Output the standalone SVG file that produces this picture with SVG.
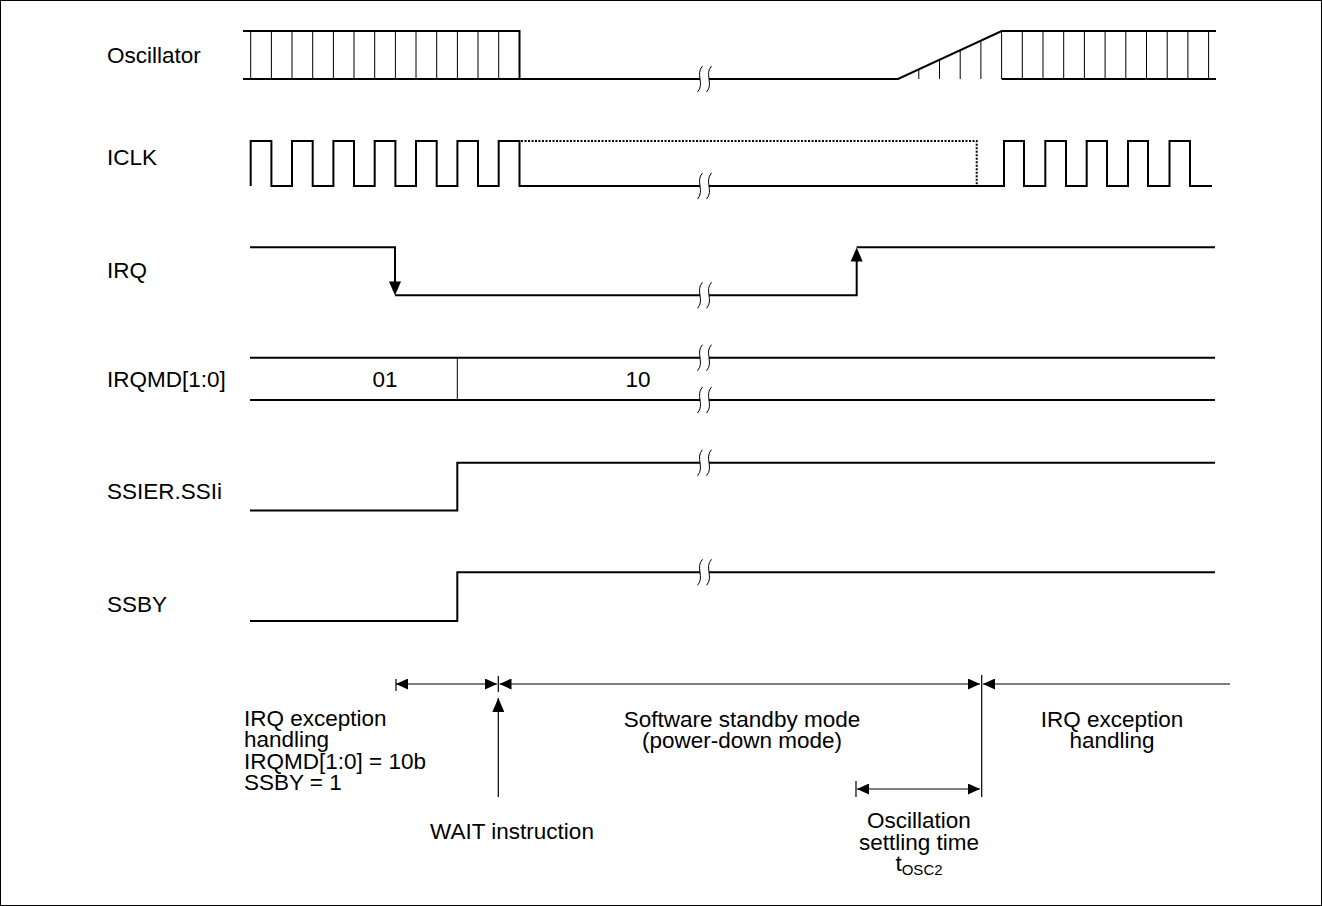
<svg xmlns="http://www.w3.org/2000/svg" width="1322" height="906" viewBox="0 0 1322 906">
<style>
text{font-family:"Liberation Sans",Arial,sans-serif;font-size:22.5px;fill:#000}
.c{text-anchor:middle}
.sig{fill:none;stroke:#000;stroke-width:2}
.thin{fill:none;stroke:#000;stroke-width:1}
.dot{fill:none;stroke:#000;stroke-width:2;stroke-dasharray:2,1.5}
.brk{fill:none;stroke:#000;stroke-width:1}
.dim{fill:none;stroke:#000;stroke-width:1.2}
</style>
<defs>
<marker id="ah" viewBox="0 0 12 11" refX="12" refY="5.5" markerWidth="12" markerHeight="11" orient="auto-start-reverse" markerUnits="userSpaceOnUse"><path d="M0,0 L12,5.5 L0,11 z" fill="#000"/></marker>
<marker id="ahL" viewBox="0 0 14 12" refX="14" refY="6" markerWidth="14" markerHeight="12" orient="auto" markerUnits="userSpaceOnUse"><path d="M0,0 L14,6 L0,12 z" fill="#000"/></marker>
<g id="brkmark"><path d="M2.5,-13 C-5,-5 5,5 -2.5,13 M11.5,-13 C4,-5 14,5 6.5,13" class="brk"/></g>
</defs>
<rect x="0.5" y="0.5" width="1321" height="905" fill="#fff" stroke="#000" stroke-width="1"/>

<g id="labels">
<text x="107" y="63">Oscillator</text>
<text x="107" y="165">ICLK</text>
<text x="107" y="278">IRQ</text>
<text x="107" y="387">IRQMD[1:0]</text>
<text x="107" y="499">SSIER.SSIi</text>
<text x="107" y="612">SSBY</text>
</g>

<g id="oscillator">
<path class="sig" d="M243,31 H519.5 V79 M243,79 H700 M709,79 H898 L1001.7,31 H1216 M1001.7,79 H1216"/>
<path class="thin" d="M250.7,31V79 M271.4,31V79 M292,31V79 M312.7,31V79 M333.4,31V79 M354,31V79 M374.7,31V79 M395.4,31V79 M416,31V79 M436.7,31V79 M457.4,31V79 M478,31V79 M498.7,31V79
M918.8,69.4V79 M939.5,59.8V79 M960.2,50.2V79 M980.9,40.6V79 M1001.6,31V79 M1022.3,31V79 M1043,31V79 M1063.7,31V79 M1084.4,31V79 M1105.1,31V79 M1125.8,31V79 M1146.5,31V79 M1167.2,31V79 M1187.9,31V79 M1208.6,31V79"/>
<use href="#brkmark" x="700" y="79"/>
</g>

<g id="iclk">
<path class="sig" d="M250.7,186 V141 H271.4 V186 H292 V141 H312.7 V186 H333.4 V141 H354 V186 H374.7 V141 H395.4 V186 H416 V141 H436.7 V186 H457.4 V141 H478 V186 H498.7 V141 H519.5 V186 H700 M709,186 H1004 V141 H1024 V186 H1045.3 V141 H1066 V186 H1086.7 V141 H1107 V186 H1128 V141 H1148 V186 H1169.5 V141 H1190 V186 H1212"/>
<path class="dot" d="M521,141 H976.7 V186"/>
<use href="#brkmark" x="700" y="186"/>
</g>

<g id="irq">
<path class="sig" d="M250,247.3 H395 V282" />
<path d="M395,295.5 L389,281.5 L401,281.5 z" fill="#000"/>
<path class="sig" d="M395,295.3 H700 M709,295.3 H856.7 V260"/>
<path d="M856.7,247.5 L850.7,261.5 L862.7,261.5 z" fill="#000"/>
<path class="sig" d="M856.7,247.3 H1215"/>
<use href="#brkmark" x="700" y="295.3"/>
</g>

<g id="irqmd">
<path class="sig" d="M250,357.7 H700 M709,357.7 H1215 M250,400 H700 M709,400 H1215" stroke-width="1.6"/>
<path class="thin" d="M457.3,357.7 V400"/>
<use href="#brkmark" x="700" y="357.7"/>
<use href="#brkmark" x="700" y="400"/>
<text class="c" x="385" y="387">01</text>
<text class="c" x="638" y="387">10</text>
</g>

<g id="ssier">
<path class="sig" d="M250,510.5 H457.3 V462.7 H700 M709,462.7 H1215"/>
<use href="#brkmark" x="700" y="462.7"/>
</g>

<g id="ssby">
<path class="sig" d="M250,621 H457.3 V572.3 H700 M709,572.3 H1215"/>
<use href="#brkmark" x="700" y="572.3"/>
</g>

<g id="connectors">
<path class="dim" d="M396,679 V691 M498.3,676 V692 M981.7,675 V797 M856,781 V797"/>
<path class="dim" d="M396,684 H497" marker-start="url(#ah)" marker-end="url(#ah)"/>
<path class="dim" d="M499.5,684 H980" marker-start="url(#ah)" marker-end="url(#ah)"/>
<path class="dim" d="M983,684 H1230" marker-start="url(#ah)"/>
<path class="dim" d="M857,789 H980" marker-start="url(#ah)" marker-end="url(#ah)"/>
<path class="dim" d="M498.3,797 V698" marker-end="url(#ahL)"/>
</g>

<g id="annotations">
<text x="244" y="725.5">IRQ exception</text>
<text x="244" y="747">handling</text>
<text x="244" y="768.5">IRQMD[1:0] = 10b</text>
<text x="244" y="790">SSBY = 1</text>
<text class="c" x="512" y="839">WAIT instruction</text>
<text class="c" x="742" y="726.5">Software standby mode</text>
<text class="c" x="742" y="748">(power-down mode)</text>
<text class="c" x="1112" y="726.5">IRQ exception</text>
<text class="c" x="1112" y="748">handling</text>
<text class="c" x="919" y="828">Oscillation</text>
<text class="c" x="919" y="850">settling time</text>
<text class="c" x="919" y="871">t<tspan font-size="15" dy="4">OSC2</tspan></text>
</g>
</svg>
